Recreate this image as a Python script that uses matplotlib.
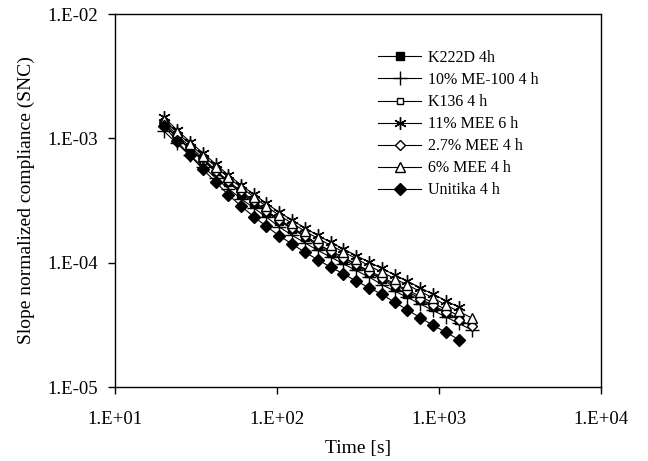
import numpy as np
import matplotlib.pyplot as plt
from matplotlib.ticker import FixedLocator, NullLocator

plt.rcParams['font.family'] = ['Liberation Serif', 'DejaVu Serif']

# times [s]
time = [20, 24, 29, 35, 42, 50, 60, 72, 86, 103, 124, 149, 178, 214,
        257, 308, 370, 444, 532, 639, 767, 920, 1104, 1325, 1590]

# slope normalized compliance for each sample
k222d = [1.303e-3, 1.035e-3, 8.28e-4, 6.69e-4, 5.44e-4, 4.48e-4, 3.59e-4, 3.01e-4,
         2.55e-4, 2.17e-4, 1.86e-4, 1.62e-4, 1.36e-4, 1.20e-4, 1.06e-4, 9.37e-5,
         8.30e-5, 7.39e-5, 6.34e-5, 5.62e-5, 4.99e-5, 4.42e-5, 3.92e-5, 3.49e-5]
me100 = [1.148e-3, 9.12e-4, 7.29e-4, 5.89e-4, 4.80e-4, 3.94e-4, 3.27e-4, 2.75e-4,
         2.33e-4, 1.94e-4, 1.66e-4, 1.44e-4, 1.26e-4, 1.11e-4, 9.79e-5, 8.65e-5,
         7.67e-5, 6.66e-5, 5.91e-5, 5.25e-5, 4.65e-5, 4.13e-5, 3.66e-5, 3.25e-5, 2.88e-5]
k136 = [1.288e-3, 1.023e-3, 8.19e-4, 6.61e-4, 5.38e-4, 4.42e-4, 3.68e-4, 3.08e-4,
        2.61e-4, 2.22e-4, 1.91e-4, 1.65e-4, 1.41e-4, 1.24e-4, 1.10e-4, 9.70e-5,
        8.60e-5, 7.65e-5, 6.79e-5, 6.03e-5, 5.34e-5, 4.74e-5, 4.20e-5, 3.74e-5]
mee11 = [1.479e-3, 1.175e-3, 9.40e-4, 7.59e-4, 6.18e-4, 5.08e-4, 4.22e-4, 3.54e-4,
         3.00e-4, 2.55e-4, 2.19e-4, 1.90e-4, 1.66e-4, 1.46e-4, 1.29e-4, 1.14e-4,
         1.01e-4, 8.99e-5, 7.98e-5, 7.08e-5, 6.28e-5, 5.57e-5, 4.94e-5, 4.39e-5]
mee27 = [1.349e-3, 1.072e-3, 8.57e-4, 6.92e-4, 5.51e-4, 4.53e-4, 3.76e-4, 3.15e-4,
         2.61e-4, 2.22e-4, 1.91e-4, 1.65e-4, 1.41e-4, 1.24e-4, 1.10e-4, 9.70e-5,
         8.40e-5, 7.48e-5, 6.64e-5, 5.89e-5, 5.11e-5, 4.53e-5, 4.02e-5, 3.49e-5, 3.09e-5]
mee6 = [1.412e-3, 1.122e-3, 8.98e-4, 7.25e-4, 5.90e-4, 4.85e-4, 4.03e-4, 3.38e-4,
        2.83e-4, 2.41e-4, 2.07e-4, 1.79e-4, 1.57e-4, 1.38e-4, 1.22e-4, 1.08e-4,
        9.42e-5, 8.39e-5, 7.45e-5, 6.61e-5, 5.86e-5, 5.20e-5, 4.56e-5, 4.05e-5, 3.59e-5]
unitika = [1.259e-3, 9.55e-4, 7.29e-4, 5.62e-4, 4.42e-4, 3.52e-4, 2.85e-4, 2.34e-4,
           1.96e-4, 1.65e-4, 1.41e-4, 1.21e-4, 1.06e-4, 9.21e-5, 8.14e-5, 7.11e-5,
           6.30e-5, 5.55e-5, 4.81e-5, 4.17e-5, 3.61e-5, 3.13e-5, 2.75e-5, 2.41e-5]

labels = ['K222D 4h', '10% ME-100 4 h', 'K136 4 h', '11% MEE 6 h',
          '2.7% MEE 4 h', '6% MEE 4 h', 'Unitika 4 h']
xticks = [1e1, 1e2, 1e3, 1e4]
yticks = [1e-5, 1e-4, 1e-3, 1e-2]
xticklabels = ['1.E+01', '1.E+02', '1.E+03', '1.E+04']
yticklabels = ['1.E-05', '1.E-04', '1.E-03', '1.E-02']

series = [k222d, me100, k136, mee11, mee27, mee6, unitika]
styles = [dict(marker='s', ms=6, mfc='black'),
          dict(marker='+', ms=10, mew=1.0),
          dict(marker='s', ms=5, mfc='white'),
          dict(marker=(6, 2, 0), ms=9, mew=1.0),
          dict(marker='D', ms=5, mfc='white'),
          dict(marker='^', ms=7, mfc='white'),
          dict(marker='D', ms=6, mfc='black')]

fig = plt.figure(figsize=(6.48, 4.61), dpi=100)
ax = fig.add_axes([115/648, 1-387/461, (601-115)/648, (387-14)/461])

for y, lab, st in zip(series, labels, styles):
    ax.plot(time[:len(y)], y, color='black', lw=0.8, mec='black', label=lab, **st)

ax.set_xscale('log')
ax.set_yscale('log')
ax.set_xlim(1e1, 1e4)
ax.set_ylim(1e-5, 1e-2)
ax.xaxis.set_major_locator(FixedLocator(xticks))
ax.yaxis.set_major_locator(FixedLocator(yticks))
ax.xaxis.set_minor_locator(NullLocator())
ax.yaxis.set_minor_locator(NullLocator())
ax.set_xticklabels(xticklabels)
ax.set_yticklabels(yticklabels)
ax.tick_params(direction='out', length=5, width=1, labelsize=13.5)
ax.tick_params(axis='x', pad=12)
ax.tick_params(axis='y', pad=7)
for s in ax.spines.values():
    s.set_linewidth(1)

ax.set_xlabel('Time [s]', fontsize=14, labelpad=9)
ax.set_ylabel('Slope normalized compliance (SNC)', fontsize=14, labelpad=9)

ax.legend(loc='upper left', bbox_to_anchor=(378/648, 1-50/461),
          bbox_transform=fig.transFigure, frameon=False, fontsize=11.5,
          borderpad=0, borderaxespad=0, handlelength=2.7, handletextpad=0.45,
          labelspacing=0.38)

fig.savefig('out.png', dpi=100)
